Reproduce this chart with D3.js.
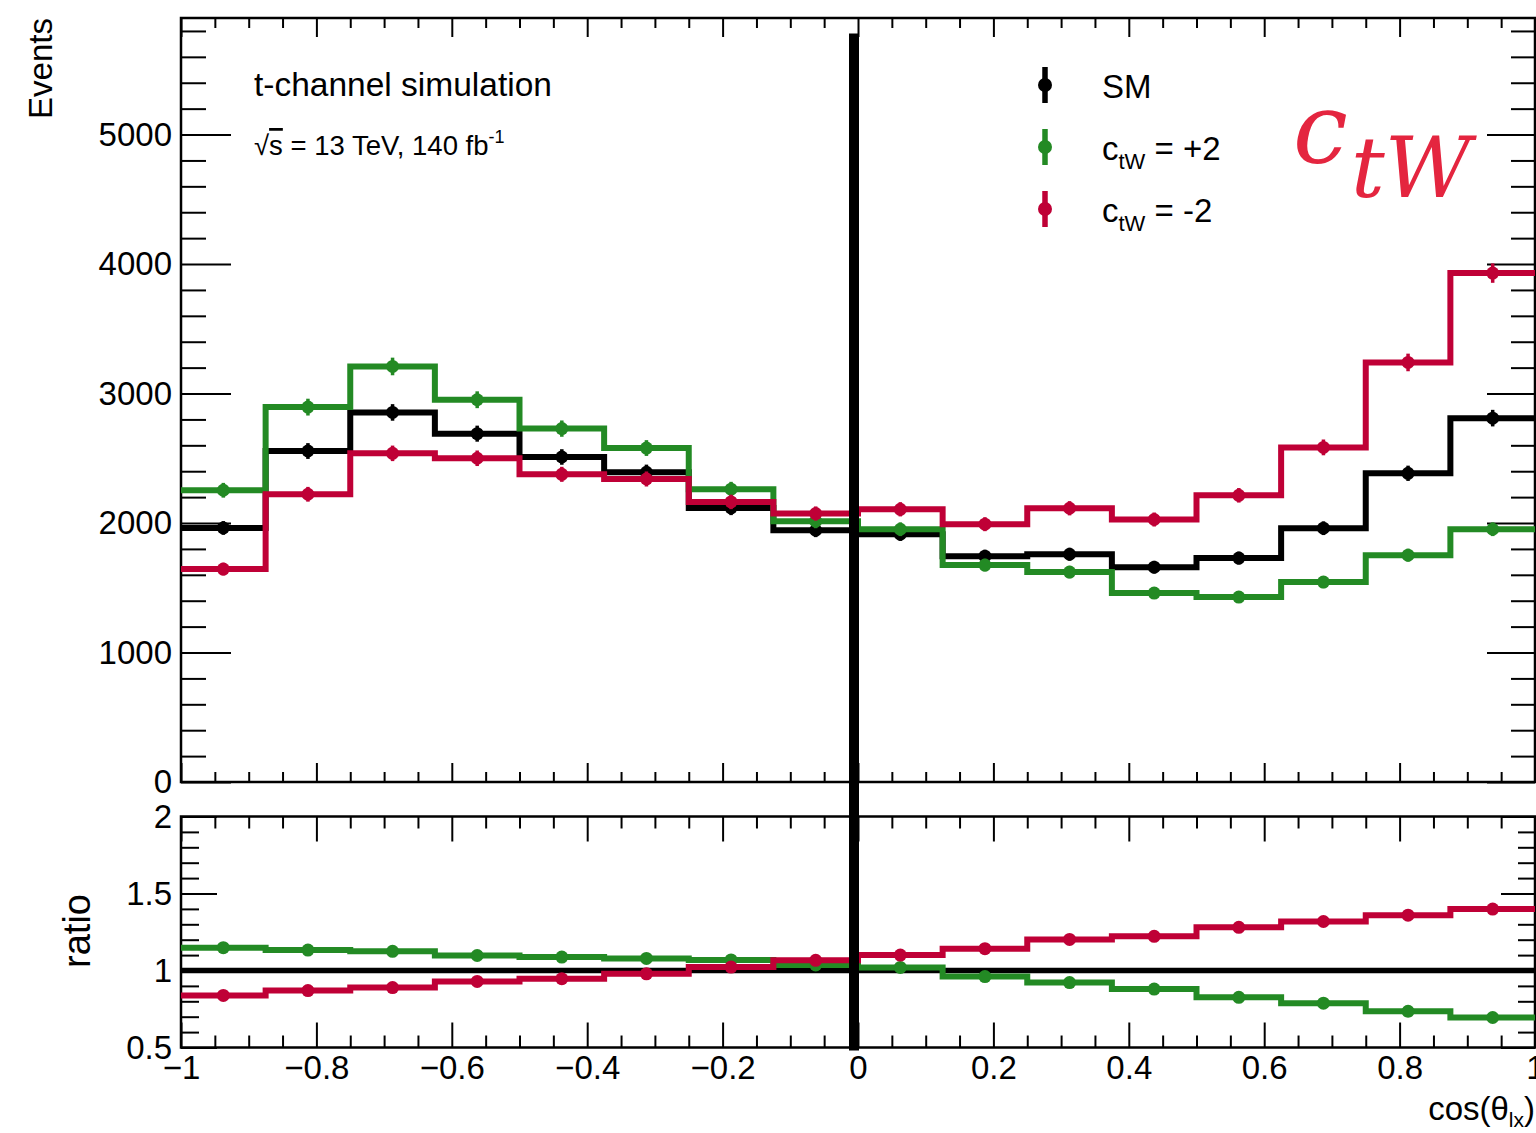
<!DOCTYPE html>
<html>
<head>
<meta charset="utf-8">
<script src="https://cdn.jsdelivr.net/npm/d3@7"></script>
<style>
  body { margin: 0; background: #fff; }
  svg { display: block; }
  text { font-family: "Liberation Sans", Arial, Helvetica, sans-serif; fill: #000; }
</style>
</head>
<body>
<svg id="chart" width="1536" height="1133"></svg>
<script>
// cos(theta_lx) binning: 16 equal bins on [-1, 1]
const binEdges = [-1, -0.875, -0.75, -0.625, -0.5, -0.375, -0.25, -0.125, 0,
                  0.125, 0.25, 0.375, 0.5, 0.625, 0.75, 0.875, 1];

// Expected event yields per bin
const smCounts    = [1962, 2556, 2854, 2690, 2510, 2392, 2116, 1944, 1914, 1744, 1759, 1659, 1729, 1960, 2384, 2810];
const ctwPlusTwo  = [2253, 2895, 3209, 2952, 2729, 2579, 2261, 2014, 1952, 1675, 1621, 1459, 1428, 1544, 1752, 1952];
const ctwMinusTwo = [1644, 2222, 2538, 2500, 2376, 2340, 2163, 2073, 2106, 1991, 2114, 2027, 2214, 2584, 3240, 3930];

// Statistical uncertainties per bin
const smErr    = [53, 61, 64, 62, 60, 59, 55, 53, 52, 50, 50, 49, 50, 53, 59, 64];
const plusErr  = [57, 65, 68, 65, 63, 61, 57, 54, 53, 49, 48, 46, 45, 47, 50, 53];
const minusErr = [49, 57, 60, 60, 58, 58, 56, 55, 55, 54, 55, 54, 56, 61, 68, 75];

// Axis ticks and labels
const xMajorTicks  = [-1, -0.8, -0.6, -0.4, -0.2, 0, 0.2, 0.4, 0.6, 0.8, 1];
const xTickLabels  = ["\u22121", "\u22120.8", "\u22120.6", "\u22120.4", "\u22120.2", "0", "0.2", "0.4", "0.6", "0.8", "1"];
const yMainTicks   = [0, 1000, 2000, 3000, 4000, 5000];
const yMainLabels  = ["0", "1000", "2000", "3000", "4000", "5000"];
const yRatioTicks  = [0.5, 1, 1.5, 2];
const yRatioLabels = ["0.5", "1", "1.5", "2"];

const seriesNames  = ["SM", "c_tW = +2", "c_tW = -2"];
const seriesColors = ["#000000", "#238a24", "#bf0036"];

// ---------------------------------------------------------------
const svg = d3.select("#chart");

const x = d3.scaleLinear().domain([-1, 1]).range([181, 1535]);
const yMain = d3.scaleLinear().domain([0, 5900]).range([782, 18]);
const yRatio = d3.scaleLinear().domain([0.5, 2]).range([1047.5, 816.5]);

const xMinor = d3.range(0, 41).map(i => -1 + i * 0.05).filter(v => Math.abs(Math.round(v * 5) - v * 5) > 1e-6);
const yMainMinor = d3.range(0, 30).map(i => i * 200).filter(v => v % 1000 !== 0);
const yRatioMinor = d3.range(0, 16).map(i => 0.5 + i * 0.1).filter(v => Math.abs(v * 2 - Math.round(v * 2)) > 1e-6);

function tickLayer(axis, tx, ty) {
  const g = svg.append("g").attr("transform", `translate(${tx},${ty})`).call(axis);
  g.select(".domain").remove();
  g.selectAll(".tick line").attr("stroke", "#000").attr("stroke-width", 2);
  g.selectAll(".tick text").remove();
  return g;
}

function frame(yScale, majors, minors, yMajLen, yMinLen, xMajLen, xMinLen) {
  const [yb, yt] = yScale.range();
  // ticks on all four sides, pointing inward
  tickLayer(d3.axisRight(yScale).tickValues(majors).tickSize(yMajLen), x(-1), 0);
  tickLayer(d3.axisRight(yScale).tickValues(minors).tickSize(yMinLen), x(-1), 0);
  tickLayer(d3.axisLeft(yScale).tickValues(majors).tickSize(yMajLen - 2), x(1), 0);
  tickLayer(d3.axisLeft(yScale).tickValues(minors).tickSize(yMinLen - 1), x(1), 0);
  tickLayer(d3.axisTop(x).tickValues(xMajorTicks).tickSize(xMajLen), 0, yb);
  tickLayer(d3.axisTop(x).tickValues(xMinor).tickSize(xMinLen), 0, yb);
  tickLayer(d3.axisBottom(x).tickValues(xMajorTicks).tickSize(xMajLen), 0, yt);
  tickLayer(d3.axisBottom(x).tickValues(xMinor).tickSize(xMinLen), 0, yt);
  svg.append("rect")
    .attr("x", x(-1)).attr("y", yt)
    .attr("width", x(1) - x(-1)).attr("height", yb - yt)
    .attr("fill", "none").attr("stroke", "#000").attr("stroke-width", 2.5);
}

frame(yMain, yMainTicks, yMainMinor, 50, 25, 19, 10);
frame(yRatio, yRatioTicks, yRatioMinor, 36, 18, 25, 12);

// tick labels
function labelAxis(axis, tx, ty, size) {
  const g = svg.append("g").attr("transform", `translate(${tx},${ty})`).call(axis);
  g.select(".domain").remove();
  g.selectAll(".tick line").remove();
  g.selectAll(".tick text")
    .attr("fill", "#000")
    .style("font-family", '"Liberation Sans", Arial, sans-serif')
    .style("font-size", size + "px");
  return g;
}
labelAxis(d3.axisLeft(yMain).tickValues(yMainTicks).tickSize(0).tickPadding(9)
  .tickFormat((d, i) => yMainLabels[i]), x(-1), 0, 33);
labelAxis(d3.axisLeft(yRatio).tickValues(yRatioTicks).tickSize(0).tickPadding(9)
  .tickFormat((d, i) => yRatioLabels[i]), x(-1), 0, 33);
labelAxis(d3.axisBottom(x).tickValues(xMajorTicks).tickSize(0).tickPadding(8)
  .tickFormat((d, i) => xTickLabels[i]), 0, yRatio(0.5), 33);

// ---------------------------------------------------------------
// histograms
const centers = d3.range(16).map(i => (binEdges[i] + binEdges[i + 1]) / 2);
const stepLine = yScale => d3.line()
  .x(d => x(d[0])).y(d => yScale(d[1]))
  .curve(d3.curveStepAfter);

function stepPoints(values) {
  const pts = values.map((v, i) => [binEdges[i], v]);
  pts.push([binEdges[16], values[values.length - 1]]);
  return pts;
}

function drawHist(values, errors, color, yScale, width, r) {
  const g = svg.append("g");
  g.append("path")
    .attr("d", stepLine(yScale)(stepPoints(values)))
    .attr("fill", "none").attr("stroke", color)
    .attr("stroke-width", width)
    .attr("stroke-linejoin", "miter").attr("stroke-linecap", "butt");
  if (errors) {
    g.selectAll("line.err").data(values).join("line")
      .attr("x1", (d, i) => x(centers[i])).attr("x2", (d, i) => x(centers[i]))
      .attr("y1", (d, i) => yScale(d - errors[i])).attr("y2", (d, i) => yScale(d + errors[i]))
      .attr("stroke", color).attr("stroke-width", 3.5);
  }
  g.selectAll("circle").data(values).join("circle")
    .attr("cx", (d, i) => x(centers[i])).attr("cy", d => yScale(d))
    .attr("r", r).attr("fill", color);
}

drawHist(smCounts, smErr, seriesColors[0], yMain, 6, 6.5);
drawHist(ctwPlusTwo, plusErr, seriesColors[1], yMain, 6, 6.5);
drawHist(ctwMinusTwo, minusErr, seriesColors[2], yMain, 6, 6.5);

// ratio to SM
const ratioPlus = ctwPlusTwo.map((v, i) => v / smCounts[i]);
const ratioMinus = ctwMinusTwo.map((v, i) => v / smCounts[i]);
svg.append("line")
  .attr("x1", x(-1)).attr("x2", x(1))
  .attr("y1", yRatio(1)).attr("y2", yRatio(1))
  .attr("stroke", "#000").attr("stroke-width", 5.5);
drawHist(ratioPlus, null, seriesColors[1], yRatio, 6, 6.5);
drawHist(ratioMinus, null, seriesColors[2], yRatio, 6, 6.5);

// divider at cos = 0 spanning both panels
svg.append("line")
  .attr("x1", x(0) - 4).attr("x2", x(0) - 4)
  .attr("y1", yMain(5780)).attr("y2", yRatio(0.48))
  .attr("stroke", "#000").attr("stroke-width", 10);

// ---------------------------------------------------------------
// titles
svg.append("text")
  .attr("transform", "translate(52,18) rotate(-90)")
  .attr("text-anchor", "end")
  .style("font-size", "33px")
  .text("Events");

svg.append("text")
  .attr("transform", "translate(90,931) rotate(-90)")
  .attr("text-anchor", "middle")
  .style("font-size", "38px")
  .text("ratio");

const xt = svg.append("text")
  .attr("x", 1535).attr("y", 1120)
  .attr("text-anchor", "end")
  .style("font-size", "33px");
xt.append("tspan").text("cos(\u03B8");
xt.append("tspan").attr("dy", 7).style("font-size", "21px").text("lx");
xt.append("tspan").attr("dy", -7).text(")");

svg.append("text")
  .attr("x", 254).attr("y", 96)
  .style("font-size", "33.5px")
  .text("t-channel simulation");

const lumi = svg.append("text")
  .attr("x", 254).attr("y", 155)
  .style("font-size", "27.5px");
lumi.append("tspan").text("\u221A");
lumi.append("tspan").style("text-decoration", "overline").text("s");
lumi.append("tspan").text(" = 13 TeV, 140 fb");
lumi.append("tspan").attr("dy", -12).style("font-size", "18px").text("-1");

// legend
const legendRows = [
  { y: 85, color: seriesColors[0], main: "SM" },
  { y: 147, color: seriesColors[1], sign: "+2" },
  { y: 209, color: seriesColors[2], sign: "-2" }
];
legendRows.forEach(row => {
  svg.append("line")
    .attr("x1", 1045).attr("x2", 1045)
    .attr("y1", row.y - 18).attr("y2", row.y + 18)
    .attr("stroke", row.color).attr("stroke-width", 5.5);
  svg.append("circle")
    .attr("cx", 1045).attr("cy", row.y).attr("r", 7)
    .attr("fill", row.color);
  const t = svg.append("text")
    .attr("x", 1102).attr("y", row.y + 13)
    .style("font-size", "33px");
  if (row.main) {
    t.text(row.main);
  } else {
    t.append("tspan").text("c");
    t.append("tspan").attr("dy", 9).style("font-size", "22px").text("tW");
    t.append("tspan").attr("dy", -9).text(" = " + row.sign);
  }
});

// coupling label
const coup = svg.append("text")
  .attr("x", 1293).attr("y", 163)
  .style("font-family", '"DejaVu Serif", serif')
  .style("font-style", "italic")
  .style("font-size", "98px")
  .style("fill", "#e4253f");
coup.append("tspan").text("c");
coup.append("tspan").attr("dy", 34).attr("dx", 3).style("font-size", "84px").text("tW");
</script>
</body>
</html>
